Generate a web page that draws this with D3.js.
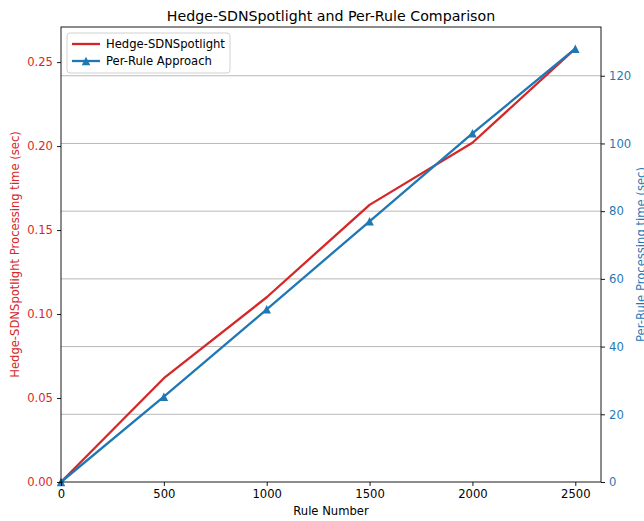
<!DOCTYPE html>
<html><head><meta charset="utf-8">
<script src="https://cdn.jsdelivr.net/npm/d3@7"></script>
<style>body{margin:0;background:#fff;} svg{display:block;font-family:"DejaVu Sans",sans-serif;}</style>
</head><body>
<svg id="c" width="644" height="521"></svg>
<script>
const rules = [0, 500, 1000, 1500, 2000, 2500];
const hedgeTimes = [0, 0.0618, 0.110, 0.165, 0.202, 0.258];
const perRuleTimes = [0, 25.2, 51, 77, 103, 128];
const xTicks = [0, 500, 1000, 1500, 2000, 2500];
const leftTicks = [0, 0.05, 0.10, 0.15, 0.20, 0.25];
const rightTicks = [0, 20, 40, 60, 80, 100, 120];
const seriesNames = ["Hedge-SDNSpotlight", "Per-Rule Approach"];

const RED = "#d62728", BLUE = "#1f77b4";
const L = 61, R = 601, T = 27, B = 482;
const svg = d3.select("#c");
const fs = 11.6;

const x = d3.scaleLinear().domain([0, 2625]).range([L, R]);
const yL = d3.scaleLinear().domain([0, d3.max(hedgeTimes) * 1.05]).range([B, T]);
const yR = d3.scaleLinear().domain([0, d3.max(perRuleTimes) * 1.05]).range([B, T]);

// grid (right axis)
svg.append("g").selectAll("line").data(rightTicks.filter(d => d > 0)).join("line")
  .attr("x1", L).attr("x2", R).attr("y1", d => yR(d)).attr("y2", d => yR(d))
  .attr("stroke", "#b0b0b0").attr("stroke-width", 0.9);

const lw = 2.3;
svg.append("path").datum(rules.map((r, i) => [r, hedgeTimes[i]]))
  .attr("fill", "none").attr("stroke", RED).attr("stroke-width", lw).attr("stroke-linejoin", "round")
  .attr("d", d3.line().x(d => x(d[0])).y(d => yL(d[1])));
svg.append("path").datum(rules.map((r, i) => [r, perRuleTimes[i]]))
  .attr("fill", "none").attr("stroke", BLUE).attr("stroke-width", lw).attr("stroke-linejoin", "round")
  .attr("d", d3.line().x(d => x(d[0])).y(d => yR(d[1])));

const tri = (cx, cy, s) => `M${cx},${cy - s/2}L${cx - s/2},${cy + s/2}L${cx + s/2},${cy + s/2}Z`;
svg.append("g").selectAll("path").data(rules.map((r, i) => [r, perRuleTimes[i]])).join("path")
  .attr("d", d => tri(x(d[0]), yR(d[1]), 8.5)).attr("fill", BLUE);

// frame
svg.append("rect").attr("x", L).attr("y", T).attr("width", R - L).attr("height", B - T)
  .attr("fill", "none").attr("stroke", "#000").attr("stroke-width", 0.9);

function styleAxis(g, color) {
  g.select(".domain").remove();
  g.selectAll(".tick line").attr("stroke", "#000").attr("stroke-width", 0.9);
  g.selectAll(".tick text").attr("fill", color).style("font-size", fs + "px").style("font-family", "DejaVu Sans");
}
const gx = svg.append("g").attr("transform", `translate(0,${B})`)
  .call(d3.axisBottom(x).tickValues(xTicks).tickSize(4).tickPadding(4).tickFormat(d3.format("d")));
styleAxis(gx, "#000");
const gl = svg.append("g").attr("transform", `translate(${L},0)`)
  .call(d3.axisLeft(yL).tickValues(leftTicks).tickSize(4).tickPadding(4).tickFormat(d3.format(".2f")));
styleAxis(gl, RED);
const gr = svg.append("g").attr("transform", `translate(${R},0)`)
  .call(d3.axisRight(yR).tickValues(rightTicks).tickSize(4).tickPadding(4).tickFormat(d3.format("d")));
styleAxis(gr, BLUE);

const cy = (T + B) / 2;
svg.append("text").attr("x", (L + R) / 2).attr("y", 515).attr("text-anchor", "middle")
  .style("font-size", fs + "px").text("Rule Number");
svg.append("text").attr("transform", `translate(19,${cy}) rotate(-90)`).attr("text-anchor", "middle")
  .attr("fill", RED).style("font-size", fs + "px").text("Hedge-SDNSpotlight Processing time (sec)");
svg.append("text").attr("transform", `translate(645,${cy}) rotate(-90)`).attr("text-anchor", "middle")
  .attr("fill", BLUE).style("font-size", fs + "px").text("Per-Rule Processing time (sec)");
svg.append("text").attr("x", (L + R) / 2).attr("y", 21).attr("text-anchor", "middle")
  .style("font-size", "14.2px").text("Hedge-SDNSpotlight and Per-Rule Comparison");

// legend
const lg = svg.append("g");
lg.append("rect").attr("x", 67).attr("y", 33).attr("width", 163).attr("height", 40).attr("rx", 3)
  .attr("fill", "#fff").attr("fill-opacity", 0.8).attr("stroke", "#cccccc").attr("stroke-width", 0.9);
const colors = [RED, BLUE];
seriesNames.forEach((n, i) => {
  const yy = 44 + i * 17;
  lg.append("line").attr("x1", 72).attr("x2", 100).attr("y1", yy).attr("y2", yy)
    .attr("stroke", colors[i]).attr("stroke-width", lw);
  if (i === 1) lg.append("path").attr("d", tri(86, yy, 8.5)).attr("fill", BLUE);
  lg.append("text").attr("x", 106).attr("y", yy + 4.2).style("font-size", fs + "px").text(n);
});
</script>
</body></html>
